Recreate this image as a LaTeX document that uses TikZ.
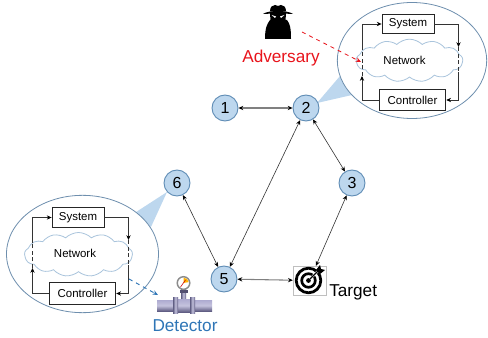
\documentclass[tikz,border=0pt]{standalone}
\usepackage{fontspec}
\setmainfont{Liberation Sans}
\usepackage{xcolor}
\usetikzlibrary{shapes.geometric,shapes.symbols,arrows.meta}
\definecolor{nodefill}{HTML}{BDD7EE}
\definecolor{nodeline}{HTML}{5F8CB5}
\definecolor{ringline}{HTML}{6E8FAE}
\definecolor{cloudline}{HTML}{A9C4DC}
\definecolor{advred}{HTML}{E8141C}
\definecolor{detblue}{HTML}{2E75B6}
\definecolor{pipe}{HTML}{8A86BC}
\tikzset{
  agent/.style={circle, draw=nodeline, fill=nodefill, line width=0.7pt, minimum size=19.5pt, inner sep=0pt, font=\fontsize{12}{12}\selectfont},
  link/.style={draw=black!80, line width=0.45pt, {Stealth[length=3.6pt,width=3.2pt,black]}-{Stealth[length=3.6pt,width=3.2pt,black]}},
  glink/.style={draw=black!50, line width=0.8pt, {Stealth[length=3.6pt,width=3.2pt,black]}-{Stealth[length=3.6pt,width=3.2pt,black]}},
  zoomring/.style={ellipse, draw=ringline, fill=white, line width=0.6pt, inner sep=0pt},
  wedge/.style={fill=nodefill, draw=none},
  blockbox/.style={draw=black!85, fill=white, line width=0.6pt, inner sep=0pt, font=\fontsize{8.6}{10}\selectfont},
  net/.style={cloud, cloud puffs=13, cloud puff arc=90, aspect=2.4, draw=cloudline, fill=white, line width=0.6pt, inner sep=0pt},
  wire/.style={draw=black!80, line width=0.55pt},
  wirea/.style={wire, -{Stealth[length=3.6pt,width=3.2pt,black]}},
  wired/.style={wire, densely dashed},
  lab/.style={font=\fontsize{12.9}{14}\selectfont},
  attack/.style={draw=advred, line width=0.6pt, dashed, -{Stealth[length=4pt,width=3.4pt]}},
  sense/.style={draw=detblue, line width=0.7pt, dashed, -{Stealth[length=4pt,width=3.4pt]}},
}
\begin{document}
\begin{tikzpicture}[x=0.75pt,y=-0.75pt]
  \useasboundingbox (0,0) rectangle (488,338);
  % wedges behind the rings
  \fill[wedge] (317,103) -- (340,76) -- (352,95) -- cycle;
  \fill[wedge] (167,192) -- (133,214) -- (151,227) -- cycle;
  % agents
  \node[agent] (n1) at (225,108) {1};
  \node[agent] (n2) at (306,108) {2};
  \node[agent] (n3) at (352,183) {3};
  \node[agent] (n6) at (177,183) {6};
  \node[agent] (n5) at (224,279) {5};
  \node[draw=black!25, line width=0.5pt, minimum width=24.5pt, minimum height=21.5pt, inner sep=0pt] (target) at (309.5,280.5) {};
  \draw[glink] (n1) -- (n2);
  \draw[glink] (n5) -- (target);
  \draw[link] (n2) -- (n3);
  \draw[link] (n2) -- (n5);
  \draw[link] (n6) -- (n5);
  \draw[link] (n3) -- (target);
  % target icon
  \draw[line width=2.1pt] (308.5,280.5) circle (12.3);
  \draw[line width=2pt] (308.5,280.5) circle (6.8);
  \fill (308.5,280.5) circle (2.4);
  \draw[white, line width=1.6pt] (309.5,279.5) -- (321,268);
  \draw[line width=0.9pt] (308.5,280.5) -- (319,270);
  \fill (316,270) -- (320,265) -- (321,269) -- (325,270) -- (320,274) -- cycle;
  \node[lab, anchor=west, inner sep=0pt] (targetlab) at (329,292) {Target};
  % ring at node 2
  \node[zoomring, minimum width=112pt, minimum height=87pt] (ringA) at (412,60.5) {};
  \node[net, minimum width=80pt, minimum height=32pt] (netA) at (409.5,60.5) {};
  \node[font=\fontsize{8.6}{10}\selectfont] (netlabA) at (404.5,60) {Network};
  \node[blockbox, minimum width=39pt, minimum height=14.5pt] (sysA) at (408,24) {System};
  \node[blockbox, minimum width=50pt, minimum height=16pt] (ctrlA) at (412.5,100) {Controller};
  \coordinate (inA) at (362,76);
  \coordinate (cutA) at (362,50);
  \coordinate (outA) at (458.5,47);
  \coordinate (retA) at (458.5,72);
  \draw[wirea] (ctrlA.west) -| (inA);
  \draw[wired] (inA) -- (cutA);
  \draw[wirea] (cutA) |- (sysA.west);
  \draw[wirea] (sysA.east) -| (outA);
  \draw[wired] (outA) -- (retA);
  \draw[wirea] (retA) |- (ctrlA.east);
  % ring at node 6
  \node[zoomring, minimum width=114pt, minimum height=88pt] (ringB) at (82.5,254) {};
  \node[net, minimum width=81pt, minimum height=33pt] (netB) at (78.5,254.5) {};
  \node[font=\fontsize{8.6}{10}\selectfont] (netlabB) at (75,253.5) {Network};
  \node[blockbox, minimum width=39pt, minimum height=14.5pt] (sysB) at (78,217.5) {System};
  \node[blockbox, minimum width=50pt, minimum height=16pt] (ctrlB) at (82.5,293.5) {Controller};
  \coordinate (inB) at (32.5,268);
  \coordinate (cutB) at (32.5,243);
  \coordinate (outB) at (128.5,240);
  \coordinate (retB) at (128.5,265);
  \draw[wirea] (ctrlB.west) -| (inB);
  \draw[wired] (inB) -- (cutB);
  \draw[wirea] (cutB) |- (sysB.west);
  \draw[wirea] (sysB.east) -| (outB);
  \draw[wired] (outB) -- (retB);
  \draw[wirea] (retB) |- (ctrlB.east);
  % adversary figure
  \fill (265,39) .. controls (265,28) and (267,24) .. (270,20) -- (287,20) .. controls (290,24) and (291,28) .. (291,39) -- cycle;
  \fill (270,12) -- (286,12) -- (285.5,22) -- (270.5,22) -- cycle;
  \fill (263,14) .. controls (268,10) and (288,10) .. (293,14) .. controls (288,13.5) and (268,13.5) .. (263,14) -- cycle;
  \fill (270,11.5) .. controls (270,7) and (272,5) .. (275,5) -- (278,6) -- (281,5) .. controls (284,5) and (286,7) .. (286,11.5) -- cycle;
  \fill[white] (271.5,15) -- (276,16.5) -- (275,18) -- cycle;
  \fill[white] (284.5,15) -- (280,16.5) -- (281,18) -- cycle;
  \coordinate (advtail) at (302,32);
  \coordinate (advhead) at (361,62);
  \draw[attack] (advtail) -- (advhead);
  \node[lab, text=advred] (advlab) at (281,58) {Adversary};
  % detector figure
  \fill[left color=pipe!70!black, right color=pipe!70!black, middle color=pipe!50] (181,289) rectangle (186,301);
  \fill[pipe!60!black] (179.5,290) rectangle (187.5,293);
  \fill[top color=pipe!70, bottom color=pipe!70!black, middle color=pipe!50] (157,300) rectangle (212,311);
  \fill[top color=pipe!70, bottom color=pipe!70!black, middle color=pipe!50] (178,299) rectangle (190,312);
  \foreach \xf in {173,190}
    \fill[left color=pipe!70!black, right color=pipe!70!black, middle color=pipe!50] (\xf,297.5) rectangle (\xf+5,313.5);
  \draw[fill=white, draw=black!45, line width=1.1pt] (183.5,283) circle (6.3);
  \fill[orange!60!yellow] (183.5,283) -- (183.5,277.7) arc (-90:-10:5.3) -- cycle;
  \draw[red!80!black, line width=0.4pt] (180.5,287) -- (185.5,280);
  \coordinate (dettail) at (129,279);
  \coordinate (dethead) at (158,295);
  \draw[sense] (dettail) -- (dethead);
  \node[lab, text=detblue] (detlab) at (185,325.5) {Detector};
\end{tikzpicture}
\end{document}
